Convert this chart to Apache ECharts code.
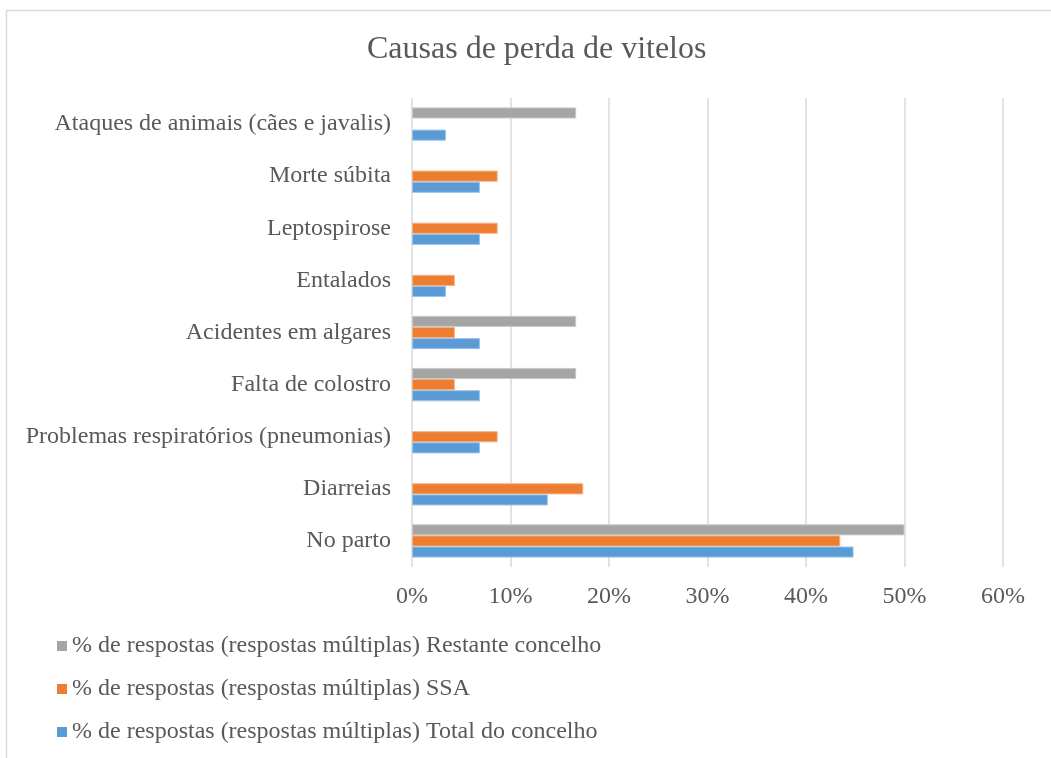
<!DOCTYPE html>
<html>
<head>
<meta charset="utf-8">
<script src="https://cdn.jsdelivr.net/npm/echarts@6/dist/echarts.min.js"></script>
<style>
  html, body { margin: 0; padding: 0; background: #ffffff; }
  #chart { width: 1051px; height: 758px; }
</style>
</head>
<body>
<div id="chart"></div>
<script>
// Causes of calf loss, listed bottom to top
const categories = [
  'No parto',
  'Diarreias',
  'Problemas respiratórios (pneumonias)',
  'Falta de colostro',
  'Acidentes em algares',
  'Entalados',
  'Leptospirose',
  'Morte súbita',
  'Ataques de animais (cães e javalis)'
];

// Share of answers (%), multiple answers allowed
const totalConcelho = [44.83, 13.79, 6.90, 6.90, 6.90, 3.45, 6.90, 6.90, 3.45];
const ssa = [43.48, 17.39, 8.70, 4.35, 4.35, 4.35, 8.70, 8.70, null];
const restanteConcelho = [50.00, null, null, 16.67, 16.67, null, null, null, 16.67];

const seriesNames = [
  '% de respostas (respostas múltiplas) Restante concelho',
  '% de respostas (respostas múltiplas) SSA',
  '% de respostas (respostas múltiplas) Total do concelho'
];

const xTicks = { min: 0, max: 60, step: 10 };

const textColor = '#595959';
const fontFamily = '"Liberation Serif", "Times New Roman", serif';

const chart = echarts.init(document.getElementById('chart'), null, { renderer: 'canvas' });

function barSeries(name, data, color, edge) {
  return {
    name: name,
    type: 'bar',
    data: data,
    barGap: '0%',
    barCategoryGap: '36%',
    itemStyle: { color: color, borderColor: edge, borderWidth: 1 },
    emphasis: { disabled: true }
  };
}

chart.setOption({
  animation: false,
  backgroundColor: '#ffffff',
  textStyle: { fontFamily: fontFamily },
  graphic: [{
    type: 'rect',
    left: 4, top: 8,
    shape: { width: 1100, height: 800 },
    style: { fill: 'none', stroke: '#d9d9d9', lineWidth: 1.5 },
    silent: true
  }],
  title: {
    text: 'Causas de perda de vitelos',
    left: 362,
    top: 29,
    textStyle: { fontFamily: fontFamily, fontSize: 32, fontWeight: 'normal', color: textColor }
  },
  grid: { left: 412, right: 48, top: 98, bottom: 191, containLabel: false },
  xAxis: {
    type: 'value',
    min: xTicks.min,
    max: xTicks.max,
    interval: xTicks.step,
    axisLine: { show: false },
    axisTick: { show: false },
    splitLine: { show: true, lineStyle: { color: '#d9d9d9', width: 1.5 } },
    axisLabel: {
      formatter: '{value}%',
      color: textColor,
      fontFamily: fontFamily,
      fontSize: 24,
      margin: 18
    }
  },
  yAxis: {
    type: 'category',
    data: categories,
    axisLine: { show: false },
    axisTick: { show: false },
    splitLine: { show: false },
    axisLabel: {
      color: textColor,
      fontFamily: fontFamily,
      fontSize: 24,
      margin: 21
    }
  },
  legend: {
    orient: 'vertical',
    left: 52,
    top: 629,
    itemWidth: 10,
    itemHeight: 10,
    itemGap: 19,
    icon: 'rect',
    itemStyle: { borderWidth: 0 },
    data: [seriesNames[0], seriesNames[1], seriesNames[2]],
    textStyle: {
      color: textColor,
      fontFamily: fontFamily,
      fontSize: 24,
      lineHeight: 24,
      padding: [0, 0, 0, 0]
    }
  },
  // Excel-style stacking inside a group: first series sits on top
  series: [
    barSeries(seriesNames[0], restanteConcelho, '#A5A5A5', '#c9c9c9'),
    barSeries(seriesNames[1], ssa, '#ED7D31', '#f4b183'),
    barSeries(seriesNames[2], totalConcelho, '#5B9BD5', '#9dc3e6')
  ]
});
</script>
</body>
</html>
